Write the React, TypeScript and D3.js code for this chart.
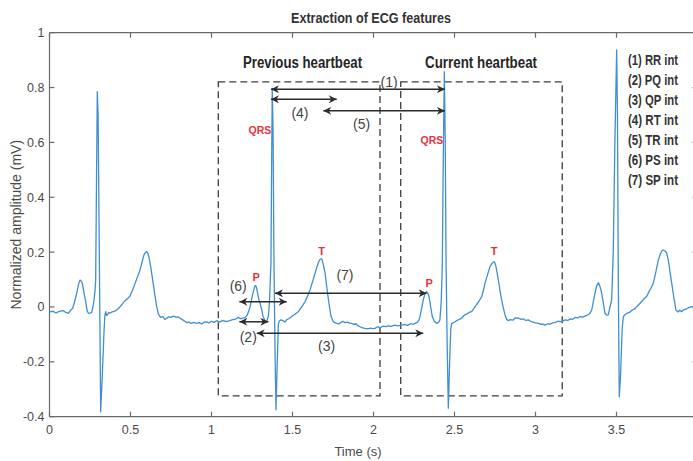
import React from "react";
import * as d3 from "d3";

// ---- data ----
const ecgTime = [
  0.000, 0.02, 0.04, 0.06, 0.085, 0.10, 0.116, 0.13, 0.143, 0.155, 0.168, 0.18, 0.188, 0.196, 0.203, 0.215, 0.225, 0.233, 0.24, 0.25,
  0.26, 0.268, 0.275, 0.281, 0.285, 0.29, 0.295, 0.300, 0.306, 0.311, 0.316, 0.326, 0.336, 0.342, 0.347, 0.352, 0.357, 0.365, 0.373, 0.385,
  0.40, 0.415, 0.43, 0.445, 0.456, 0.47, 0.485, 0.497, 0.51, 0.52, 0.528, 0.545, 0.559, 0.572, 0.583, 0.592, 0.6, 0.607, 0.614, 0.625,
  0.637, 0.65, 0.662, 0.672, 0.686, 0.70, 0.712, 0.723, 0.735, 0.75, 0.764, 0.78, 0.793, 0.806, 0.82, 0.835, 0.847, 0.86, 0.875, 0.89,
  0.909, 0.925, 0.94, 0.955, 0.97, 0.985, 1.0, 1.016, 1.032, 1.05, 1.07, 1.09, 1.114, 1.13, 1.15, 1.166, 1.18, 1.195, 1.207, 1.22,
  1.23, 1.238, 1.25, 1.262, 1.269, 1.276, 1.285, 1.293, 1.30, 1.31, 1.318, 1.326, 1.333, 1.342, 1.351, 1.358, 1.363, 1.367, 1.371, 1.375,
  1.38, 1.385, 1.392, 1.398, 1.405, 1.413, 1.42, 1.429, 1.44, 1.454, 1.465, 1.48, 1.495, 1.51, 1.525, 1.536, 1.55, 1.565, 1.577, 1.59,
  1.6, 1.608, 1.62, 1.63, 1.639, 1.65, 1.66, 1.67, 1.677, 1.684, 1.692, 1.701, 1.712, 1.725, 1.738, 1.752, 1.765, 1.783, 1.80, 1.81,
  1.824, 1.84, 1.852, 1.865, 1.88, 1.893, 1.906, 1.92, 1.935, 1.948, 1.965, 1.98, 1.995, 2.009, 2.025, 2.04, 2.06, 2.075, 2.091, 2.11,
  2.13, 2.15, 2.174, 2.19, 2.21, 2.23, 2.245, 2.256, 2.272, 2.28, 2.287, 2.297, 2.307, 2.318, 2.328, 2.335, 2.343, 2.353, 2.363, 2.375,
  2.39, 2.40, 2.41, 2.418, 2.425, 2.43, 2.437, 2.443, 2.448, 2.455, 2.462, 2.47, 2.477, 2.483, 2.492, 2.503, 2.513, 2.523, 2.535, 2.544,
  2.56, 2.575, 2.59, 2.606, 2.62, 2.635, 2.65, 2.668, 2.678, 2.688, 2.70, 2.71, 2.719, 2.73, 2.738, 2.746, 2.753, 2.76, 2.773, 2.787,
  2.80, 2.812, 2.822, 2.832, 2.845, 2.86, 2.875, 2.894, 2.91, 2.925, 2.94, 2.956, 2.97, 2.985, 3.0, 3.017, 3.035, 3.045, 3.059, 3.075,
  3.09, 3.105, 3.12, 3.14, 3.16, 3.182, 3.2, 3.215, 3.23, 3.244, 3.26, 3.275, 3.29, 3.306, 3.32, 3.335, 3.347, 3.357, 3.367, 3.378,
  3.388, 3.398, 3.409, 3.42, 3.429, 3.44, 3.449, 3.46, 3.47, 3.48, 3.49, 3.501, 3.506, 3.511, 3.517, 3.525, 3.535, 3.542, 3.55, 3.563,
  3.58, 3.595, 3.61, 3.625, 3.64, 3.655, 3.67, 3.686, 3.7, 3.715, 3.727, 3.74, 3.758, 3.77, 3.78, 3.789, 3.80, 3.81, 3.82, 3.83,
  3.841, 3.855, 3.867, 3.88, 3.89, 3.902, 3.915, 3.93, 3.945, 3.964, 3.98, 4.0,
];
const ecgValue = [
  -0.019, -0.015, -0.022, -0.016, -0.013, -0.02, -0.023, -0.012, -0.005, 0.02, 0.05, 0.085, 0.098, 0.095, 0.086, 0.045, 0.013, -0.015, -0.023, -0.022,
  -0.02, 0.0, 0.026, 0.06, 0.098, 0.45, 0.785, 0.70, 0.30, -0.05, -0.382, -0.25, -0.096, -0.03, -0.017, -0.031, -0.029, -0.02, -0.023, -0.018,
  -0.016, -0.011, -0.003, 0.008, 0.016, 0.025, 0.032, 0.04, 0.058, 0.073, 0.086, 0.112, 0.135, 0.165, 0.19, 0.198, 0.202, 0.196, 0.183, 0.145,
  0.098, 0.045, 0.001, -0.025, -0.038, -0.035, -0.045, -0.042, -0.036, -0.038, -0.033, -0.037, -0.036, -0.041, -0.046, -0.052, -0.057, -0.055, -0.06, -0.056,
  -0.06, -0.057, -0.062, -0.055, -0.054, -0.058, -0.052, -0.056, -0.05, -0.055, -0.049, -0.053, -0.05, -0.046, -0.044, -0.038, -0.043, -0.04, -0.04, -0.03,
  -0.015, 0.001, 0.035, 0.065, 0.078, 0.075, 0.05, 0.025, 0.013, -0.01, -0.035, -0.045, -0.054, -0.05, -0.035, 0.02, 0.10, 0.16, 0.50, 0.797,
  0.65, 0.20, -0.15, -0.375, -0.22, -0.06, -0.05, -0.047, -0.05, -0.054, -0.046, -0.042, -0.035, -0.028, -0.022, -0.017, -0.005, 0.008, 0.019, 0.035,
  0.05, 0.062, 0.085, 0.104, 0.123, 0.145, 0.162, 0.174, 0.176, 0.171, 0.15, 0.123, 0.07, 0.013, -0.035, -0.054, -0.058, -0.062, -0.056, -0.052,
  -0.057, -0.055, -0.059, -0.06, -0.063, -0.062, -0.069, -0.073, -0.076, -0.078, -0.08, -0.077, -0.079, -0.078, -0.072, -0.075, -0.07, -0.072, -0.069, -0.071,
  -0.066, -0.069, -0.066, -0.063, -0.067, -0.061, -0.063, -0.06, -0.055, -0.048, -0.035, -0.005, 0.026, 0.048, 0.056, 0.05, 0.038, 0.0, -0.035, -0.052,
  -0.06, -0.057, -0.047, 0.02, 0.159, 0.50, 0.858, 0.60, 0.159, -0.15, -0.369, -0.20, -0.08, -0.06, -0.058, -0.054, -0.05, -0.047, -0.043, -0.041,
  -0.03, -0.026, -0.02, -0.017, -0.005, 0.008, 0.02, 0.038, 0.06, 0.086, 0.11, 0.13, 0.147, 0.158, 0.163, 0.165, 0.155, 0.135, 0.09, 0.038,
  0.0, -0.029, -0.045, -0.05, -0.046, -0.048, -0.04, -0.041, -0.045, -0.043, -0.049, -0.047, -0.052, -0.055, -0.058, -0.06, -0.063, -0.062, -0.066, -0.061,
  -0.063, -0.058, -0.057, -0.052, -0.054, -0.047, -0.049, -0.043, -0.045, -0.038, -0.04, -0.035, -0.037, -0.033, -0.03, -0.024, -0.011, 0.02, 0.05, 0.078,
  0.089, 0.075, 0.05, 0.01, -0.023, -0.03, -0.029, 0.0, 0.026, 0.2, 0.6, 0.937, 0.7, 0.1, -0.327, -0.25, -0.08, -0.035, -0.03, -0.023,
  -0.02, -0.012, -0.008, 0.001, 0.01, 0.02, 0.03, 0.038, 0.055, 0.072, 0.086, 0.12, 0.171, 0.192, 0.205, 0.208, 0.204, 0.196, 0.17, 0.13,
  0.086, 0.03, -0.011, -0.018, -0.012, -0.017, -0.01, -0.008, -0.002, 0.001, -0.004, 0.0,
];

const xTicks = [0, 0.5, 1, 1.5, 2, 2.5, 3, 3.5, 4];
const xTickLabels = ["0", "0.5", "1", "1.5", "2", "2.5", "3", "3.5", "4"];
const yTicks = [-0.4, -0.2, 0, 0.2, 0.4, 0.6, 0.8, 1];
const yTickLabels = ["-0.4", "-0.2", "0", "0.2", "0.4", "0.6", "0.8", "1"];

const titleText = "Extraction of ECG features";
const xLabel = "Time (s)";
const yLabel = "Normalized amplitude (mV)";

// dashed boxes
const boxNames = ["Previous heartbeat", "Current heartbeat"];
const boxT0 = [1.042, 2.168];
const boxT1 = [2.04, 3.165];
const boxVTop = [0.821, 0.821];
const boxVBottom = [-0.324, -0.324];
const boxTitleT = [1.562, 2.664];
const boxTitleV = [0.893, 0.893];

// interval arrows
const arrowT1 = [1.367, 1.172, 1.279, 1.367, 1.69, 1.172, 1.392];
const arrowT2 = [2.441, 1.351, 2.307, 1.773, 2.441, 1.464, 2.328];
const arrowV = [0.794, -0.054, -0.096, 0.757, 0.715, 0.019, 0.05];
const arrowLabels = ["(1)", "(2)", "(3)", "(4)", "(5)", "(6)", "(7)"];
const arrowLabelT = [2.096, 1.227, 1.711, 1.546, 1.927, 1.165, 1.824];
const arrowLabelV = [0.82, -0.108, -0.142, 0.707, 0.667, 0.077, 0.117];

// wave markers
const waveNames = ["QRS", "QRS", "P", "P", "T", "T"];
const waveT = [1.299, 2.361, 1.275, 2.343, 1.68, 2.744];
const waveV = [0.645, 0.609, 0.109, 0.087, 0.204, 0.204];

const legendItems = ["(1) RR int", "(2) PQ int", "(3) QP int", "(4) RT int", "(5) TR int", "(6) PS int", "(7) SP int"];

// ---- layout ----
const W = 693;
const H = 461;
const X0 = 49.5;
const X1 = 697.5;
const YTOP = 32.7;
const YBOT = 416.7;
const FONT = "'Liberation Sans Narrow', 'Arial Narrow', 'Liberation Sans', Arial, sans-serif";
const AXIS = "#6b6b6b";
const TXT = "#4a4a4a";

export default function App() {
  const x = d3.scaleLinear().domain([0, 4]).range([X0, X1]);
  const y = d3.scaleLinear().domain([-0.4, 1]).range([YBOT, YTOP]);
  const pts = ecgTime.map((t, i) => [t, ecgValue[i]] as [number, number]);
  const line = d3
    .line<[number, number]>()
    .x((d) => x(d[0]))
    .y((d) => y(d[1]));
  const tickLen = 5;
  const headingLen = [119, 112];

  return (
    <svg
      width={W}
      height={H}
      style={{ position: "absolute", left: 0, top: 0, background: "#fff" }}
      fontFamily={FONT}
    >
      <defs>
        <clipPath id="plot">
          <rect x={X0} y={YTOP} width={X1 - X0} height={YBOT - YTOP} />
        </clipPath>
        <marker
          id="arr"
          viewBox="0 0 10 10"
          refX={10}
          refY={5}
          markerWidth={9}
          markerHeight={8}
          markerUnits="userSpaceOnUse"
          orient="auto-start-reverse"
        >
          <path d="M0,0 L10,5 L0,10 L3,5 z" fill="#2b2b2b" />
        </marker>
      </defs>

      {/* title */}
      <text
        x={371}
        y={23}
        textAnchor="middle"
        fontWeight="bold"
        fontSize={14.5}
        fill="#333"
        textLength={160}
        lengthAdjust="spacingAndGlyphs"
      >
        {titleText}
      </text>

      {/* axes box */}
      <g stroke={AXIS} strokeWidth={1.2} fill="none">
        <line x1={X0} x2={X1} y1={YTOP} y2={YTOP} />
        <line x1={X0} x2={X1} y1={YBOT} y2={YBOT} />
        <line x1={X0} x2={X0} y1={YTOP} y2={YBOT} />
        <line x1={X1} x2={X1} y1={YTOP} y2={YBOT} />
        {xTicks.map((t) => (
          <g key={"xt" + t}>
            <line x1={x(t)} x2={x(t)} y1={YBOT} y2={YBOT - tickLen} />
            <line x1={x(t)} x2={x(t)} y1={YTOP} y2={YTOP + tickLen} />
          </g>
        ))}
        {yTicks.map((v) => (
          <g key={"yt" + v}>
            <line x1={X0} x2={X0 + tickLen} y1={y(v)} y2={y(v)} />
            <line x1={X1} x2={X1 - tickLen} y1={y(v)} y2={y(v)} />
          </g>
        ))}
      </g>
      {xTicks.map((t, i) => (
        <text key={"xl" + t} x={x(t)} y={YBOT + 17} textAnchor="middle" fontSize={12.5} fill={TXT}>
          {xTickLabels[i]}
        </text>
      ))}
      {yTicks.map((v, i) => (
        <text key={"yl" + v} x={X0 - 5} y={y(v) + 4.5} textAnchor="end" fontSize={12.5} fill={TXT}>
          {yTickLabels[i]}
        </text>
      ))}
      <text x={358} y={456} textAnchor="middle" fontSize={13} fill={TXT}>
        {xLabel}
      </text>
      <text
        transform={`translate(21,${(YTOP + YBOT) / 2}) rotate(-90)`}
        textAnchor="middle"
        fontSize={14}
        fill={TXT}
      >
        {yLabel}
      </text>

      {/* dashed boxes */}
      {boxNames.map((name, i) => (
        <g key={name}>
          <rect
            x={x(boxT0[i])}
            y={y(boxVTop[i])}
            width={x(boxT1[i]) - x(boxT0[i])}
            height={y(boxVBottom[i]) - y(boxVTop[i])}
            fill="none"
            stroke="#3c3c3c"
            strokeWidth={1.3}
            strokeDasharray="7,4"
          />
          <text
            x={x(boxTitleT[i])}
            y={y(boxTitleV[i]) + 5.5}
            textAnchor="middle"
            fontWeight="bold"
            fontSize={16}
            fill="#262626"
            textLength={headingLen[i]}
            lengthAdjust="spacingAndGlyphs"
          >
            {name}
          </text>
        </g>
      ))}

      {/* ECG signal */}
      <path
        d={line(pts) || ""}
        fill="none"
        stroke="#3f8fd2"
        strokeWidth={1.3}
        strokeLinejoin="round"
        clipPath="url(#plot)"
      />

      {/* arrows */}
      {arrowLabels.map((lab, i) => (
        <g key={lab}>
          <line
            x1={x(arrowT1[i])}
            x2={x(arrowT2[i])}
            y1={y(arrowV[i])}
            y2={y(arrowV[i])}
            stroke="#2b2b2b"
            strokeWidth={1.5}
            markerStart="url(#arr)"
            markerEnd="url(#arr)"
          />
          <text x={x(arrowLabelT[i])} y={y(arrowLabelV[i]) + 5} textAnchor="middle" fontSize={14} fill="#444">
            {lab}
          </text>
        </g>
      ))}

      {/* wave labels */}
      {waveNames.map((n, i) => (
        <text
          key={n + i}
          x={x(waveT[i])}
          y={y(waveV[i]) + 4}
          textAnchor="middle"
          fontWeight="bold"
          fontSize={n === "QRS" ? 10.5 : 11}
          fill="#e8323c"
        >
          {n}
        </text>
      ))}

      {/* legend text */}
      {legendItems.map((s, i) => (
        <text
          key={s}
          x={628}
          y={65 + i * 20}
          fontWeight="bold"
          fontSize={14}
          fill="#333"
          textLength={50}
          lengthAdjust="spacingAndGlyphs"
        >
          {s}
        </text>
      ))}
    </svg>
  );
}
